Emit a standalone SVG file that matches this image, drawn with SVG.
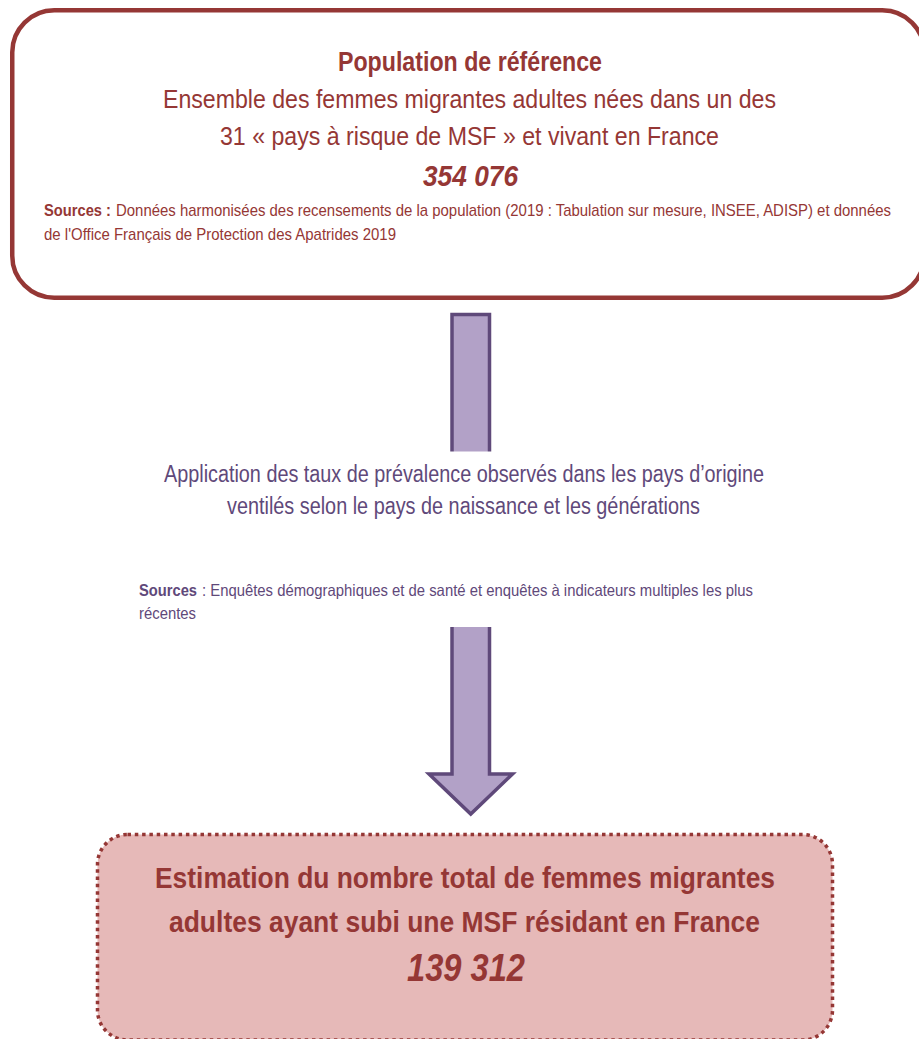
<svg xmlns="http://www.w3.org/2000/svg" width="919" height="1039" viewBox="0 0 919 1039">
<style>
  text { font-family: "Liberation Sans Narrow", "Liberation Sans", Arial, sans-serif; }
  .red { fill: #953735; }
  .pur { fill: #5F497A; }
  .b { font-weight: bold; }
  .bi { font-weight: bold; font-style: italic; }
</style>
<defs>
  <clipPath id="midclip"><rect x="130" y="560" width="660" height="62"/></clipPath>
</defs>
<rect x="0" y="0" width="919" height="1039" fill="#FFFFFF"/>

<g id="connectors">
  <polygon points="452,314.5 489.5,314.5 489.5,774 512.5,774 470.75,814 429,774 452,774 452,314.5" fill="#B2A1C7" stroke="#5F497A" stroke-width="3.5" stroke-linejoin="miter"/>
</g>

<g id="node-reference">
  <rect x="12.25" y="10.25" width="912" height="287.5" rx="42" ry="42" fill="#FFFFFF" stroke="#953735" stroke-width="4.5"/>
  <text class="red b" x="338" y="71" font-size="27" textLength="264" lengthAdjust="spacingAndGlyphs">Population de référence</text>
  <text class="red" x="163" y="108" font-size="26" textLength="613" lengthAdjust="spacingAndGlyphs">Ensemble des femmes migrantes adultes nées dans un des</text>
  <text class="red" x="220" y="145" font-size="26" textLength="499" lengthAdjust="spacingAndGlyphs">31 « pays à risque de MSF » et vivant en France</text>
  <text class="red bi" x="423" y="186" font-size="30" textLength="95" lengthAdjust="spacingAndGlyphs">354 076</text>
  <text class="red b" x="44" y="216" font-size="17" textLength="67" lengthAdjust="spacingAndGlyphs">Sources :</text>
  <text class="red" x="116" y="216" font-size="17" textLength="775" lengthAdjust="spacingAndGlyphs">Données harmonisées des recensements de la population (2019 : Tabulation sur mesure, INSEE, ADISP) et données</text>
  <text class="red" x="44" y="240" font-size="17" textLength="352" lengthAdjust="spacingAndGlyphs">de l'Office Français de Protection des Apatrides 2019</text>
</g>

<g id="node-application">
  <rect x="140" y="451.5" width="650" height="175.5" fill="#FFFFFF"/>
  <text class="pur" x="164" y="481.5" font-size="23" textLength="600" lengthAdjust="spacingAndGlyphs">Application des taux de prévalence observés dans les pays d’origine</text>
  <text class="pur" x="227" y="514" font-size="23" textLength="473" lengthAdjust="spacingAndGlyphs">ventilés selon le pays de naissance et les générations</text>
  <g clip-path="url(#midclip)">
    <text class="pur b" x="139" y="596" font-size="16.5" textLength="58" lengthAdjust="spacingAndGlyphs">Sources</text>
    <text class="pur" x="202" y="596" font-size="16.5" textLength="551" lengthAdjust="spacingAndGlyphs">: Enquêtes démographiques et de santé et enquêtes à indicateurs multiples les plus</text>
    <text class="pur" x="139" y="619" font-size="16.5" textLength="57" lengthAdjust="spacingAndGlyphs">récentes</text>
  </g>
</g>

<g id="node-estimation">
  <rect x="97.5" y="834.5" width="735" height="205.5" rx="30" ry="30" fill="#E6B9B8" stroke="#953735" stroke-width="3.5" stroke-dasharray="3.5 3.8"/>
  <text class="red b" x="155" y="888" font-size="29" textLength="620" lengthAdjust="spacingAndGlyphs">Estimation du nombre total de femmes migrantes</text>
  <text class="red b" x="169" y="932" font-size="29" textLength="591" lengthAdjust="spacingAndGlyphs">adultes ayant subi une MSF résidant en France</text>
  <text class="red bi" x="407" y="981" font-size="39" textLength="118" lengthAdjust="spacingAndGlyphs">139 312</text>
</g>
</svg>
